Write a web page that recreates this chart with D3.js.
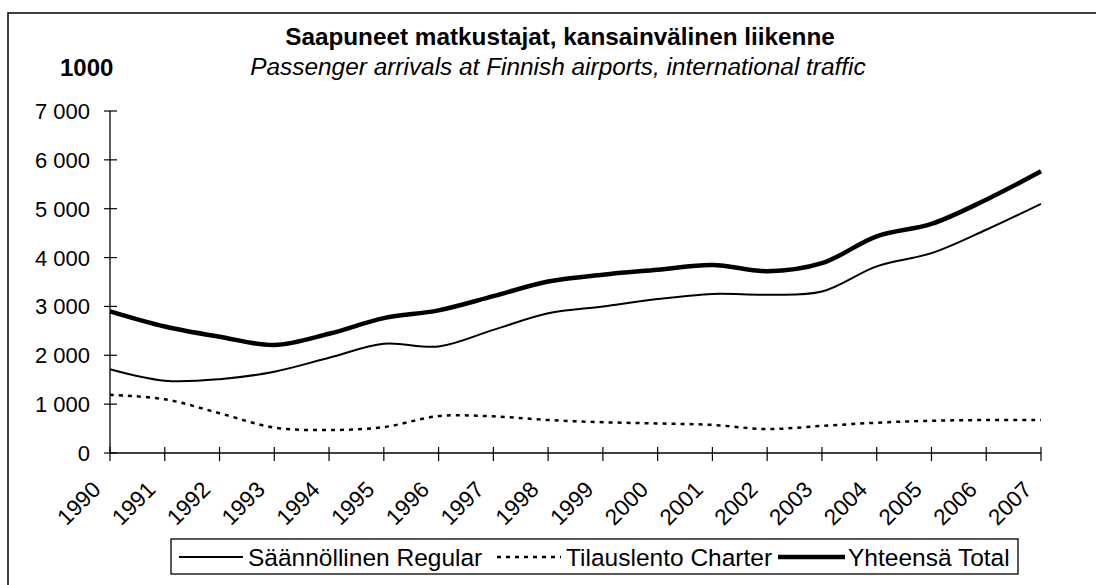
<!DOCTYPE html>
<html>
<head>
<meta charset="utf-8">
<script src="https://cdn.jsdelivr.net/npm/d3@7"></script>
<style>
	body { margin: 0; background: #fff; }
	svg { display: block; }
	text { font-family: "Liberation Sans", Arial, sans-serif; fill: #000; }
</style>
</head>
<body>
<div id="viz"></div>
<script>
// data, thousands of passengers
let years = [1990, 1991, 1992, 1993, 1994, 1995, 1996, 1997, 1998, 1999, 2000, 2001, 2002, 2003, 2004, 2005, 2006, 2007];
let regular = [1715, 1480, 1510, 1665, 1950, 2235, 2180, 2520, 2860, 3000, 3150, 3255, 3240, 3305, 3820, 4090, 4570, 5100];
let charter = [1190, 1100, 815, 520, 470, 530, 755, 750, 675, 630, 605, 575, 490, 555, 620, 660, 675, 675];
let total = [2900, 2590, 2380, 2210, 2440, 2760, 2920, 3210, 3510, 3650, 3750, 3850, 3720, 3885, 4435, 4690, 5185, 5765];
let yTicks = [0, 1000, 2000, 3000, 4000, 5000, 6000, 7000];
let seriesNames = ["Säännöllinen Regular", "Tilauslento Charter", "Yhteensä Total"];

let titleFi = "Saapuneet matkustajat, kansainvälinen liikenne";
let titleEn = "Passenger arrivals at Finnish airports, international traffic";

function draw() {
	let width = 1096, height = 585;
	let svg = d3.select("#viz").append("svg")
		.attr("width", width).attr("height", height);

	// outer frame (right / bottom edges run off the picture)
	svg.append("rect")
		.attr("x", 8).attr("y", 13)
		.attr("width", 1100).attr("height", 600)
		.style("fill", "none").style("stroke", "#000").style("stroke-width", 1.5);

	svg.append("text").text(titleFi)
		.attr("x", 560).attr("y", 45)
		.attr("text-anchor", "middle")
		.style("font-size", "24.3px").style("font-weight", "bold");

	svg.append("text").text(titleEn)
		.attr("x", 558).attr("y", 75)
		.attr("text-anchor", "middle")
		.style("font-size", "24.4px").style("font-style", "italic");

	svg.append("text").text("1000")
		.attr("x", 60).attr("y", 76)
		.style("font-size", "24px").style("font-weight", "bold");

	let x = d3.scaleLinear().domain([1990, 2007]).range([110, 1041]);
	let y = d3.scaleLinear().domain([0, 7000]).range([453, 111]);

	let loc = d3.formatLocale({ decimal: ",", thousands: " ", grouping: [3], currency: ["", ""] });
	let fmt = loc.format(",d");

	// y axis
	svg.append("line")
		.attr("x1", x(1990)).attr("y1", y(0))
		.attr("x2", x(1990)).attr("y2", y(7000))
		.style("stroke", "#000").style("stroke-width", 1.3);
	svg.selectAll(".ytick").data(yTicks).enter().append("line")
		.attr("x1", x(1990) - 6).attr("x2", x(1990) + 7)
		.attr("y1", d => y(d)).attr("y2", d => y(d))
		.style("stroke", "#000").style("stroke-width", 1.2);
	svg.selectAll(".ylab").data(yTicks).enter().append("text")
		.text(d => fmt(d))
		.attr("x", 90).attr("y", d => y(d) + 8)
		.attr("text-anchor", "end")
		.style("font-size", "22px");

	// x axis
	svg.append("line")
		.attr("x1", x(1990)).attr("y1", y(0))
		.attr("x2", x(2007)).attr("y2", y(0))
		.style("stroke", "#000").style("stroke-width", 1.3);
	svg.selectAll(".xtick").data(years).enter().append("line")
		.attr("x1", d => x(d)).attr("x2", d => x(d))
		.attr("y1", y(0) - 6).attr("y2", y(0) + 8)
		.style("stroke", "#000").style("stroke-width", 1.2);
	svg.selectAll(".xlab").data(years).enter().append("text")
		.text(d => d)
		.attr("text-anchor", "end")
		.attr("transform", d => "translate(" + (x(d) - 8) + "," + 491 + ") rotate(-45)")
		.style("font-size", "22.5px");

	// series lines
	let line = d3.line()
		.x((d, i) => x(years[i]))
		.y(d => y(d))
		.curve(d3.curveCatmullRom.alpha(0.5));

	svg.append("path").datum(charter)
		.attr("d", line)
		.style("fill", "none").style("stroke", "#000")
		.style("stroke-width", 2.5).style("stroke-dasharray", "4,5");
	svg.append("path").datum(regular)
		.attr("d", line)
		.style("fill", "none").style("stroke", "#000").style("stroke-width", 2);
	svg.append("path").datum(total)
		.attr("d", line)
		.style("fill", "none").style("stroke", "#000").style("stroke-width", 4.5);

	// legend
	svg.append("rect")
		.attr("x", 171).attr("y", 539)
		.attr("width", 847).attr("height", 35)
		.style("fill", "#fff").style("stroke", "#000").style("stroke-width", 1.3);

	let legItems = [
		{ name: seriesNames[0], x1: 179, x2: 243, tx: 248, w: 2, dash: null },
		{ name: seriesNames[1], x1: 497, x2: 561, tx: 566, w: 2.5, dash: "4,5" },
		{ name: seriesNames[2], x1: 778, x2: 845, tx: 848, w: 4.5, dash: null }
	];
	legItems.forEach(it => {
		svg.append("line")
			.attr("x1", it.x1).attr("x2", it.x2)
			.attr("y1", 557).attr("y2", 557)
			.style("stroke", "#000").style("stroke-width", it.w)
			.style("stroke-dasharray", it.dash);
		svg.append("text").text(it.name)
			.attr("x", it.tx).attr("y", 566)
			.style("font-size", "24.5px");
	});
}
draw();
</script>
</body>
</html>
